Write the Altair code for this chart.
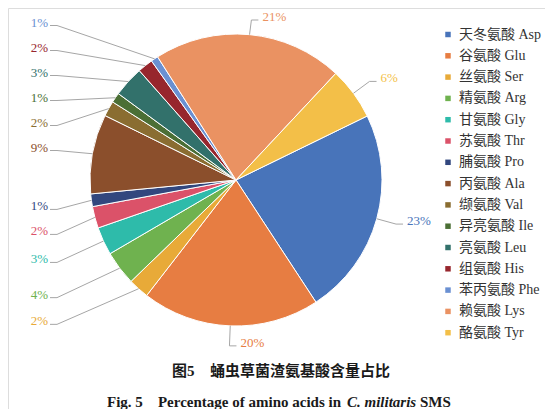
import math
import altair as alt
import numpy as np
import pandas as pd

# ---- data ----
names = ["天冬氨酸 Asp", "谷氨酸 Glu", "丝氨酸 Ser", "精氨酸 Arg", "甘氨酸 Gly",
         "苏氨酸 Thr", "脯氨酸 Pro", "丙氨酸 Ala", "缬氨酸 Val", "异亮氨酸 Ile",
         "亮氨酸 Leu", "组氨酸 His", "苯丙氨酸 Phe", "赖氨酸 Lys", "酪氨酸 Tyr"]
shares = [23.0, 19.7, 2.3, 3.8, 3.1, 2.4, 1.4, 8.8, 1.7, 1.1, 3.4, 1.7, 0.8, 21.0, 5.8]
colors = ["#4874BA", "#E77D42", "#E8AA38", "#6FB24F", "#2EBBAA",
          "#DB5269", "#32477E", "#8B4F2C", "#8A6D31", "#4B6F35",
          "#32716B", "#97262D", "#6A90D2", "#EA9262", "#F3BF48"]

title_cn_a = "图5"
title_cn_b = "蛹虫草菌渣氨基酸含量占比"
title_en_a = "Fig. 5"
title_en_b = "Percentage of amino acids in"
title_en_c = "C. militaris"
title_en_d = "SMS"

# ---- layout ----
W, H = 537, 401
CX, CY, R = 228, 172, 146
START = math.radians(64)
SERIF = "'Liberation Serif', 'Noto Sans CJK SC'"
TOP_MIN = 9

n = len(names)
total = sum(shares)
vals = np.array(shares)
cum = np.cumsum(vals)
mid = START + 2 * np.pi * (cum - vals / 2) / total
pct = [f"{round(v / total * 100)}%" for v in shares]

df = pd.DataFrame({"name": names, "share": shares, "idx": list(range(n)), "pct": pct})

# label placement: left column for slices facing left, short elbows elsewhere
left = [i for i in range(n) if math.sin(mid[i]) < -0.5]
ly = {i: CY - 1.3 * R * math.cos(mid[i]) for i in left}
prev = -1e9
for i in sorted(left, key=lambda k: ly[k]):
    ly[i] = max(ly[i], prev + 25)
    prev = ly[i]

lab_rows, seg_rows = [], []
for i in range(n):
    s, c = math.sin(mid[i]), math.cos(mid[i])
    ax, ay = CX + R * s, CY - R * c
    if i in ly:
        tx, ty = CX - R - 42, ly[i]
        ex, ey = tx + 9, ty + 3
        seg_rows.append({"x1": ax, "y1": ay, "x2": ex, "y2": ey})
        seg_rows.append({"x1": ex, "y1": ey, "x2": tx + 2, "y2": ey})
        side = "L"
    else:
        ex, ey = CX + (R + 20) * s, CY - (R + 20) * c
        ty = max(ey - 3, TOP_MIN)
        ey = max(ey, ty + 3)
        seg_rows.append({"x1": ax, "y1": ay, "x2": ex, "y2": ey})
        seg_rows.append({"x1": ex, "y1": ey, "x2": ex + 7, "y2": ey})
        tx = ex + 11
        side = "R"
    lab_rows.append({"name": names[i], "pct": pct[i], "tx": tx, "ty": ty, "side": side})

labs = pd.DataFrame(lab_rows)
segs = pd.DataFrame(seg_rows)

xs = alt.Scale(domain=[0, W], range=[0, W], nice=False, zero=False)
ys = alt.Scale(domain=[0, H], range=[0, H], nice=False, zero=False)
cscale = alt.Scale(domain=names, range=colors)

arcs = alt.Chart(df).mark_arc(outerRadius=R, stroke="white", strokeWidth=1).encode(
    theta=alt.Theta("share:Q", stack=True,
                    scale=alt.Scale(range=[START, START + 2 * math.pi])),
    color=alt.Color("name:N", scale=cscale, sort=names,
                    legend=alt.Legend(orient="none", legendX=433, legendY=19.5, title=None,
                                      symbolType="square", symbolSize=30,
                                      symbolStrokeWidth=0, labelFont=SERIF,
                                      labelFontSize=14, labelColor="#333333",
                                      rowPadding=7.3, labelOffset=4, padding=0,
                                      labelLimit=200)),
    order=alt.Order("idx:Q"),
    x=alt.value(CX),
    y=alt.value(CY),
)

lines = alt.Chart(segs).mark_rule(color="#a6a6a6", strokeWidth=1).encode(
    x=alt.X("x1:Q", scale=xs, axis=None),
    y=alt.Y("y1:Q", scale=ys, axis=None),
    x2="x2:Q",
    y2="y2:Q",
)

def lab_layer(side, align):
    return alt.Chart(labs[labs.side == side]).mark_text(
        font=SERIF, fontSize=13, align=align, baseline="middle"
    ).encode(
        x=alt.X("tx:Q", scale=xs, axis=None),
        y=alt.Y("ty:Q", scale=ys, axis=None),
        text="pct:N",
        color=alt.Color("name:N", scale=cscale, legend=None),
    )

one = pd.DataFrame({"k": [0]})

def title_piece(txt, x, y, italic=False, align="left"):
    return alt.Chart(one).mark_text(
        font=SERIF, fontSize=15, fontWeight="bold",
        fontStyle="italic" if italic else "normal",
        align=align, baseline="middle", color="#1a1a1a"
    ).encode(x=alt.value(x), y=alt.value(y), text=alt.value(txt))

chart = alt.layer(
    arcs, lines, lab_layer("L", "right"), lab_layer("R", "left"),
    title_piece(title_cn_a, 164, 363), title_piece(title_cn_b, 202, 363),
    title_piece(title_en_a, 99, 394), title_piece(title_en_b, 333, 394, align="right"),
    title_piece(title_en_c, 339, 394, italic=True), title_piece(title_en_d, 412, 394),
).properties(width=W, height=H, padding=0, autosize=alt.AutoSizeParams(type="none")
).configure_view(stroke=None).configure(background="white")

chart.save("out.html", embed_options={"renderer": "svg", "actions": False})
